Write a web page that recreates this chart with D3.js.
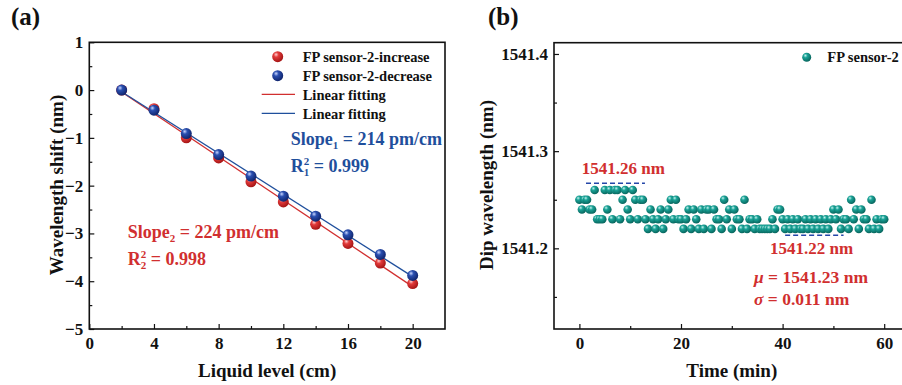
<!DOCTYPE html>
<html>
<head>
<meta charset="utf-8">
<script src="https://cdn.jsdelivr.net/npm/d3@7"></script>
<style>
  body { margin: 0; background: #fff; }
  svg { display: block; font-family: "Liberation Serif", "Times New Roman", Times, "DejaVu Serif", serif; font-weight: bold; }
  svg text { font-family: "Liberation Serif", "Times New Roman", Times, "DejaVu Serif", serif !important; }
</style>
</head>
<body>
<svg id="chart" width="902" height="385"></svg>
<script>
// ---- data (a) ----
const levels = [2, 4, 6, 8, 10, 12, 14, 16, 18, 20];
const shiftIncrease = [0, -0.39, -1.0, -1.42, -1.92, -2.34, -2.81, -3.21, -3.62, -4.05];
const shiftDecrease = [0, -0.42, -0.91, -1.35, -1.80, -2.22, -2.64, -3.03, -3.44, -3.88];
const xTicksA = [0, 4, 8, 12, 16, 20];
const yTicksA = [1, 0, -1, -2, -3, -4, -5];

// ---- data (b) ---- one sample every 0.5 min, 0..60 min
const dipOffset = [ // value - 1541 (nm)
  .25, .24, .25, .25, .24, .24, .26, .23, .23, .23,
  .26, .24, .26, .23, .26, .26, .23, .25, .26, .24,
  .23, .26, .25, .23, .25, .25, .23, .22, .24, .23,
  .22, .23, .24, .22, .23, .24, .25, .23, .25, .23,
  .23, .22, .23, .24, .22, .24, .23, .22, .24, .22,
  .24, .24, .22, .24, .23, .23, .22, .25, .23, .24,
  .22, .24, .23, .23, .22, .25, .22, .23, .23, .22,
  .23, .22, .22, .22, .22, .22, .23, .22, .24, .24,
  .23, .22, .23, .22, .23, .22, .23, .22, .22, .23,
  .22, .23, .22, .23, .22, .23, .22, .23, .22, .23,
  .24, .23, .24, .22, .23, .23, .22, .25, .23, .24,
  .22, .24, .23, .23, .22, .25, .22, .23, .22, .23,
  .23
];
const dipTimes = dipOffset.map((d, i) => i * 0.5);
const xTicksB = [0, 20, 40, 60];
const yTicksB = [1541.2, 1541.3, 1541.4];

const RED = "#d12f2f", BLUE = "#1f4f9c", TEAL = "#14968c";

const svg = d3.select("#chart");
const defs = svg.append("defs");

// shaded ball gradients
const ball = (id, light, mid, dark) => {
  const g = defs.append("radialGradient").attr("id", id)
    .attr("cx", "38%").attr("cy", "35%").attr("r", "65%").attr("fx", "35%").attr("fy", "30%");
  g.append("stop").attr("offset", "0%").attr("stop-color", light);
  g.append("stop").attr("offset", "35%").attr("stop-color", mid);
  g.append("stop").attr("offset", "100%").attr("stop-color", dark);
};
ball("gRed", "#ffd0d0", "#e23a3a", "#a51515");
ball("gBlue", "#c9d6ff", "#2a4fb0", "#10256e");
ball("gTeal", "#c6f2ee", "#1aa397", "#08665e");

// ================= panel (a) =================
const xA = d3.scaleLinear().domain([0, 22]).range([89.3, 445]);
const yA = d3.scaleLinear().domain([-5, 1]).range([329, 42.3]);
const gA = svg.append("g");

gA.append("g").attr("transform", `translate(0,${yA(-5)})`)
  .call(d3.axisBottom(xA).tickValues(xTicksA).tickSize(-5).tickPadding(8).tickFormat(d3.format("d")))
  .call(s => s.select(".domain").remove());
gA.append("g").attr("transform", `translate(0,${yA(-5)})`)
  .call(d3.axisBottom(xA).tickValues(d3.range(2, 22, 4)).tickSize(-3).tickFormat(""))
  .call(s => s.select(".domain").remove());
gA.append("g").attr("transform", `translate(${xA(0)},0)`)
  .call(d3.axisLeft(yA).tickValues(yTicksA).tickSize(-5).tickPadding(6).tickFormat(d3.format("d")))
  .call(s => s.select(".domain").remove());
gA.append("g").attr("transform", `translate(${xA(0)},0)`)
  .call(d3.axisLeft(yA).tickValues(d3.range(-4.5, 1, 1)).tickSize(-3).tickFormat(""))
  .call(s => s.select(".domain").remove());
gA.selectAll(".tick text").attr("font-size", 17).attr("fill", "#111");
gA.selectAll(".tick line").attr("stroke", "#111").attr("stroke-width", 1.2);

gA.append("rect").attr("x", xA(0)).attr("y", yA(1))
  .attr("width", xA(22) - xA(0)).attr("height", yA(-5) - yA(1))
  .attr("fill", "none").attr("stroke", "#111").attr("stroke-width", 1.6);

// linear fits
const fit = ys => {
  const mx = d3.mean(levels), my = d3.mean(ys);
  const b = d3.sum(levels, (x, i) => (x - mx) * (ys[i] - my)) / d3.sum(levels, x => (x - mx) ** 2);
  return { b, a: my - b * mx };
};
[[shiftIncrease, RED], [shiftDecrease, BLUE]].forEach(([ys, c]) => {
  const f = fit(ys);
  gA.append("line")
    .attr("x1", xA(2)).attr("y1", yA(f.a + f.b * 2))
    .attr("x2", xA(20)).attr("y2", yA(f.a + f.b * 20))
    .attr("stroke", c).attr("stroke-width", 1.3);
});

gA.append("g").selectAll("circle").data(levels).join("circle")
  .attr("cx", d => xA(d)).attr("cy", (d, i) => yA(shiftIncrease[i])).attr("r", 5.5)
  .attr("fill", "url(#gRed)");
gA.append("g").selectAll("circle").data(levels).join("circle")
  .attr("cx", d => xA(d)).attr("cy", (d, i) => yA(shiftDecrease[i])).attr("r", 5.5)
  .attr("fill", "url(#gBlue)");

// legend (a)
const legA = gA.append("g").attr("font-size", 14.5).attr("fill", "#111");
legA.append("circle").attr("cx", 277.7).attr("cy", 56.7).attr("r", 5.5).attr("fill", "url(#gRed)");
legA.append("circle").attr("cx", 277.7).attr("cy", 75.7).attr("r", 5.5).attr("fill", "url(#gBlue)");
legA.append("line").attr("x1", 261.7).attr("x2", 295).attr("y1", 94.3).attr("y2", 94.3).attr("stroke", RED).attr("stroke-width", 1.3);
legA.append("line").attr("x1", 261.7).attr("x2", 295).attr("y1", 113.3).attr("y2", 113.3).attr("stroke", BLUE).attr("stroke-width", 1.3);
["FP sensor-2-increase", "FP sensor-2-decrease", "Linear fitting", "Linear fitting"].forEach((t, i) => {
  legA.append("text").attr("x", 302.7).attr("y", 61.5 + i * 19).text(t);
});

// slope annotations
const slopeText = (g, x, y, c, sub, val, r2) => {
  const t1 = g.append("text").attr("x", x).attr("y", y).attr("fill", c).attr("font-size", 18);
  t1.append("tspan").text("Slope");
  t1.append("tspan").attr("font-size", 11).attr("dy", 4).text(sub);
  t1.append("tspan").attr("dy", -4).text(` = ${val} pm/cm`);
  const t2 = g.append("text").attr("x", x).attr("y", y + 27).attr("fill", c).attr("font-size", 18);
  t2.append("tspan").text("R");
  t2.append("tspan").attr("font-size", 11).attr("dy", -7).text("2");
  t2.append("tspan").attr("font-size", 11).attr("dx", -5.5).attr("dy", 11).text(sub);
  t2.append("tspan").attr("dy", -4).text(` = ${r2}`);
};
slopeText(gA, 290.7, 145, BLUE, "1", 214, "0.999");
slopeText(gA, 127.7, 237.5, RED, "2", 224, "0.998");

gA.append("text").attr("x", xA(11)).attr("y", 377).attr("text-anchor", "middle")
  .attr("font-size", 19).attr("fill", "#111").text("Liquid level (cm)");
gA.append("text").attr("transform", "translate(63,185) rotate(-90)").attr("text-anchor", "middle")
  .attr("font-size", 19).attr("fill", "#111").text("Wavelength shift (nm)");
gA.append("text").attr("x", 11).attr("y", 25).attr("font-size", 25).attr("fill", "#111").text("(a)");

// ================= panel (b) =================
const xB = d3.scaleLinear().domain([-5, 65]).range([554, 909.6]);
const yB = d3.scaleLinear().domain([1541.117, 1541.4116]).range([329, 42.7]);
const gB = svg.append("g");

gB.append("g").attr("transform", `translate(0,${yB.range()[0]})`)
  .call(d3.axisBottom(xB).tickValues(xTicksB).tickSize(-5).tickPadding(8).tickFormat(d3.format("d")))
  .call(s => s.select(".domain").remove());
gB.append("g").attr("transform", `translate(0,${yB.range()[0]})`)
  .call(d3.axisBottom(xB).tickValues([10, 30, 50]).tickSize(-3).tickFormat(""))
  .call(s => s.select(".domain").remove());
gB.append("g").attr("transform", `translate(${xB(-5)},0)`)
  .call(d3.axisLeft(yB).tickValues(yTicksB).tickSize(-5).tickPadding(6).tickFormat(d3.format(".1f")))
  .call(s => s.select(".domain").remove());
gB.append("g").attr("transform", `translate(${xB(-5)},0)`)
  .call(d3.axisLeft(yB).tickValues([1541.15, 1541.25, 1541.35]).tickSize(-3).tickFormat(""))
  .call(s => s.select(".domain").remove());
gB.selectAll(".tick text").attr("font-size", 17).attr("fill", "#111");
gB.selectAll(".tick line").attr("stroke", "#111").attr("stroke-width", 1.2);

gB.append("rect").attr("x", xB(-5)).attr("y", yB.range()[1])
  .attr("width", xB(65) - xB(-5)).attr("height", yB.range()[0] - yB.range()[1])
  .attr("fill", "none").attr("stroke", "#111").attr("stroke-width", 1.6);

// dashed max / min markers
gB.append("line").attr("x1", xB(1.3)).attr("x2", xB(12.9)).attr("y1", yB(1541.267)).attr("y2", yB(1541.267))
  .attr("stroke", "#2446a8").attr("stroke-width", 1.6).attr("stroke-dasharray", "5,3");
gB.append("line").attr("x1", xB(40.5)).attr("x2", xB(52)).attr("y1", yB(1541.2134)).attr("y2", yB(1541.2134))
  .attr("stroke", "#2446a8").attr("stroke-width", 1.6).attr("stroke-dasharray", "5,3");

gB.append("g").selectAll("circle").data(dipTimes).join("circle")
  .attr("cx", d => xB(d)).attr("cy", (d, i) => yB(1541 + dipOffset[i])).attr("r", 4.3)
  .attr("fill", "url(#gTeal)");

// legend (b)
gB.append("circle").attr("cx", 806.7).attr("cy", 57.3).attr("r", 4.5).attr("fill", "url(#gTeal)");
gB.append("text").attr("x", 827.3).attr("y", 62).attr("font-size", 14.5).attr("fill", "#111").text("FP sensor-2");

// annotations
gB.append("text").attr("x", 581.7).attr("y", 174).attr("font-size", 17).attr("fill", RED).text("1541.26 nm");
gB.append("text").attr("x", 770).attr("y", 254).attr("font-size", 17).attr("fill", RED).text("1541.22 nm");
const mu = gB.append("text").attr("x", 754).attr("y", 283).attr("font-size", 17.5).attr("fill", RED);
mu.append("tspan").attr("font-style", "italic").text("μ");
mu.append("tspan").text(" = 1541.23 nm");
const sg = gB.append("text").attr("x", 754).attr("y", 305).attr("font-size", 17.5).attr("fill", RED);
sg.append("tspan").attr("font-style", "italic").text("σ");
sg.append("tspan").text(" = 0.011 nm");

gB.append("text").attr("x", xB(30)).attr("y", 377).attr("text-anchor", "middle")
  .attr("font-size", 19).attr("fill", "#111").text("Time (min)");
gB.append("text").attr("transform", "translate(493,185) rotate(-90)").attr("text-anchor", "middle")
  .attr("font-size", 19).attr("fill", "#111").text("Dip wavelength (nm)");
gB.append("text").attr("x", 488).attr("y", 25).attr("font-size", 25).attr("fill", "#111").text("(b)");
</script>
</body>
</html>
